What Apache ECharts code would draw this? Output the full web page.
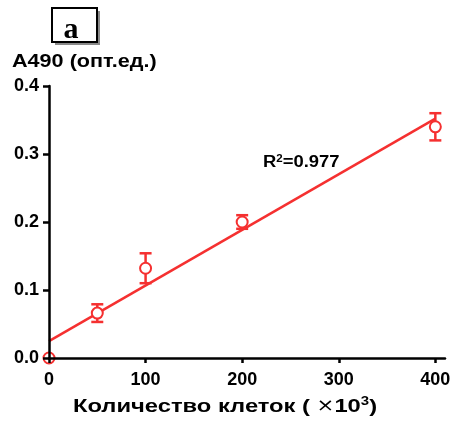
<!DOCTYPE html>
<html>
<head>
<meta charset="utf-8">
<script src="https://cdn.jsdelivr.net/npm/echarts@6/dist/echarts.min.js"></script>
<style>
html,body{margin:0;padding:0;background:#fff;}
#chart{width:454px;height:428px;}
</style>
</head>
<body>
<div id="chart"></div>
<script>
// Data
var cellCounts = [0, 50, 100, 200, 400];          // x10^3 cells
var absorbance = [0.000, 0.066, 0.132, 0.200, 0.340]; // A490
var errors     = [0.000, 0.013, 0.022, 0.010, 0.020];
var xTicks = [0, 100, 200, 300, 400];
var yTicks = [0, 0.1, 0.2, 0.3, 0.4];
var r2Value = '0.977';

// linear regression from the data
var n = cellCounts.length, mx = 0, my = 0;
for (var i = 0; i < n; i++) { mx += cellCounts[i]; my += absorbance[i]; }
mx /= n; my /= n;
var sxy = 0, sxx = 0;
for (var i = 0; i < n; i++) { sxy += (cellCounts[i]-mx)*(absorbance[i]-my); sxx += (cellCounts[i]-mx)*(cellCounts[i]-mx); }
var slope = sxy / sxx, intercept = my - slope * mx;
var fitX = [0, 400];
var fitData = fitX.map(function (x) { return [x, intercept + slope * x]; });

var pts = cellCounts.map(function (x, i) { return [x, absorbance[i]]; });
var errData = cellCounts.map(function (x, i) { return [x, absorbance[i] - errors[i], absorbance[i] + errors[i]]; });

var RED = '#f53030';
var FONT = '"Liberation Sans", Arial, sans-serif';

var chart = echarts.init(document.getElementById('chart'));
chart.setOption({
  animation: false,
  backgroundColor: '#fff',
  grid: { left: 49, right: 9, top: 86, bottom: 70, containLabel: false },
  xAxis: {
    type: 'value', min: 0, max: 410, interval: 100, z: 5,
    splitLine: { show: false },
    axisLine: { lineStyle: { color: '#000', width: 2.5 } },
    axisTick: { length: 5, lineStyle: { color: '#000', width: 2.5 }, customValues: xTicks },
    axisLabel: { customValues: xTicks, color: '#000', fontFamily: FONT, fontWeight: 'bold', fontSize: 18, margin: 13 }
  },
  yAxis: {
    type: 'value', min: 0, max: 0.4, interval: 0.1, z: 5,
    splitLine: { show: false },
    axisLine: { lineStyle: { color: '#000', width: 2.5 } },
    axisTick: { length: 6, lineStyle: { color: '#000', width: 2.5 } },
    axisLabel: { color: '#000', fontFamily: FONT, fontWeight: 'bold', fontSize: 18, margin: 10,
      formatter: function (v) { return v.toFixed(1); } }
  },
  series: [
    {
      type: 'line', data: fitData, showSymbol: false, symbol: 'none', z: 2,
      lineStyle: { color: RED, width: 2.5 }
    },
    {
      type: 'custom', z: 3, data: errData,
      renderItem: function (params, api) {
        var x = api.value(0);
        var lo = api.coord([x, api.value(1)]);
        var hi = api.coord([x, api.value(2)]);
        var hw = 6;
        var style = { stroke: RED, lineWidth: 2.5, fill: null };
        return { type: 'group', children: [
          { type: 'line', shape: { x1: lo[0], y1: lo[1], x2: hi[0], y2: hi[1] }, style: style },
          { type: 'line', shape: { x1: lo[0]-hw, y1: lo[1], x2: lo[0]+hw, y2: lo[1] }, style: style },
          { type: 'line', shape: { x1: hi[0]-hw, y1: hi[1], x2: hi[0]+hw, y2: hi[1] }, style: style }
        ]};
      }
    },
    {
      type: 'scatter', data: pts, z: 4, symbol: 'emptyCircle', symbolSize: 11,
      itemStyle: { color: RED, borderColor: RED, borderWidth: 2.5, opacity: 1 }
    }
  ],
  graphic: [
    { type: 'rect', shape: { x: 55, y: 11, width: 45, height: 34 }, style: { fill: '#8a8a8a' } },
    { type: 'rect', shape: { x: 52, y: 8, width: 45, height: 34 }, style: { fill: '#fff', stroke: '#000', lineWidth: 2 } },
    { type: 'text', x: 71, y: 30, style: { text: 'a', font: 'bold 30px "Liberation Serif", "Times New Roman", serif', fill: '#000', align: 'center', verticalAlign: 'middle' } },
    { type: 'text', x: 12, y: 62, scaleX: 1.2, style: { text: 'A490 (опт.ед.)', font: 'bold 18px ' + FONT, fill: '#000', align: 'left', verticalAlign: 'middle' } },
    { type: 'text', x: 263, y: 163, scaleX: 1.15, style: {
      text: '{t|R}{s|2}{t|=' + r2Value + '}', align: 'left', verticalAlign: 'middle',
      rich: {
        t: { font: 'bold 16px ' + FONT, color: '#000' },
        s: { font: 'bold 10px ' + FONT, color: '#000', padding: [0, 0, 8, 0] }
      }
    } },
    { type: 'text', x: 225, y: 407, scaleX: 1.25, style: {
      text: '{t|Количество клеток ( }{m|×}{t|10}{s|3}{t|)}',
      align: 'center', verticalAlign: 'middle',
      rich: {
        t: { font: 'bold 19px ' + FONT, color: '#000' },
        m: { font: '17px "DejaVu Sans", sans-serif', color: '#000' },
        s: { font: 'bold 12px ' + FONT, color: '#000', padding: [0, 0, 10, 0] }
      }
    } }
  ]
});
</script>
</body>
</html>
